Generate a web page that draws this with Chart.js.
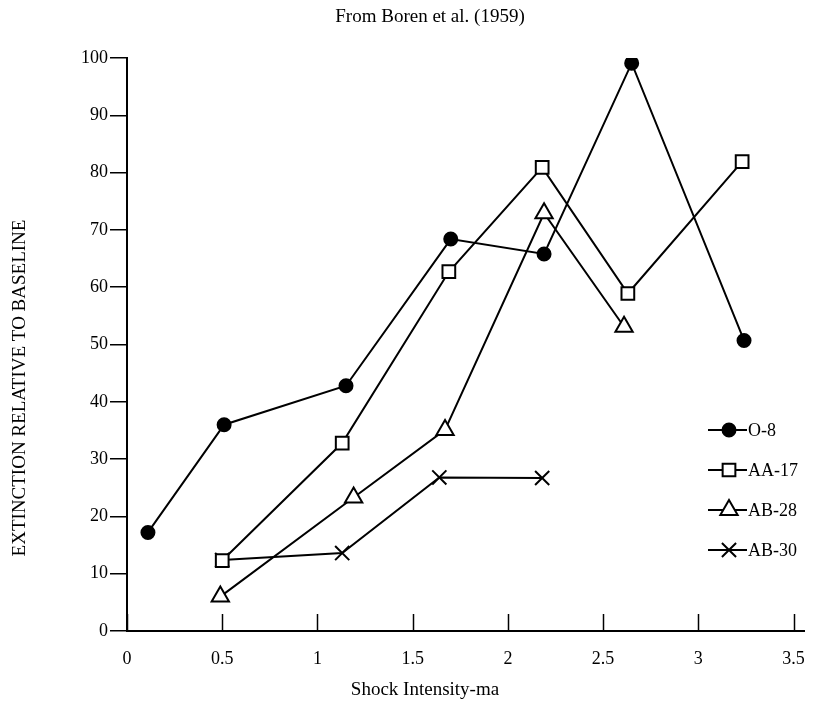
<!DOCTYPE html>
<html>
<head>
<meta charset="utf-8">
<script src="https://cdn.jsdelivr.net/npm/chart.js"></script>
<style>
body { margin: 0; background: #fff; }
#wrap { width: 822px; height: 706px; }
</style>
</head>
<body>
<div id="wrap"><canvas id="chart" width="822" height="706"></canvas></div>
<script>
// values (Boren et al. 1959)
var seriesNames = ['O-8', 'AA-17', 'AB-28', 'AB-30'];

var xO8 = [0.11, 0.51, 1.15, 1.70, 2.19, 2.65, 3.24];
var yO8 = [17.2, 36.0, 42.8, 68.4, 65.8, 99.1, 50.7];

var xAA17 = [0.50, 1.13, 1.69, 2.18, 2.63, 3.23];
var yAA17 = [12.3, 32.8, 62.7, 80.9, 58.9, 81.9];

var xAB28 = [0.49, 1.19, 1.67, 2.19, 2.61];
var yAB28 = [6.0, 23.3, 35.1, 72.9, 53.1];

var xAB30 = [0.50, 1.13, 1.64, 2.18];
var yAB30 = [12.4, 13.6, 26.8, 26.7];

var xTicks = [0, 0.5, 1, 1.5, 2, 2.5, 3, 3.5];
var yTicks = [0, 10, 20, 30, 40, 50, 60, 70, 80, 90, 100];

var titleText = 'From Boren et al. (1959)';
var xTitle = 'Shock Intensity-ma';
var yTitle = 'EXTINCTION RELATIVE TO BASELINE';

function pairs(xs, ys) {
    return xs.map(function(x, i) { return {x: x, y: ys[i]}; });
}

var serif = "'Liberation Serif', 'DejaVu Serif', serif";

var marks = [
    {style: 'circle', r: 6.5, fill: '#000'},
    {style: 'rect', r: 9, fill: '#fff'},
    {style: 'triangle', r: 10, fill: '#fff'},
    {style: 'crossRot', r: 10, fill: '#fff'}
];

var allX = [xO8, xAA17, xAB28, xAB30];
var allY = [yO8, yAA17, yAB28, yAB30];

var datasets = seriesNames.map(function(name, i) {
    return {
        label: name,
        data: pairs(allX[i], allY[i]),
        borderColor: '#000',
        borderWidth: 2,
        backgroundColor: marks[i].fill,
        pointStyle: marks[i].style,
        pointRadius: marks[i].r,
        pointBorderWidth: 2,
        pointBorderColor: '#000',
        pointBackgroundColor: marks[i].fill,
        tension: 0,
        fill: false
    };
});

// x axis tick marks point up into the plot
var innerTicks = {
    id: 'innerTicks',
    beforeDatasetsDraw: function(chart) {
        var ctx = chart.ctx, xs = chart.scales.x, bottom = chart.chartArea.bottom;
        ctx.save();
        ctx.strokeStyle = '#000';
        ctx.lineWidth = 1.5;
        xTicks.forEach(function(v) {
            var px = Math.round(xs.getPixelForValue(v)) + 0.5;
            ctx.beginPath();
            ctx.moveTo(px, bottom);
            ctx.lineTo(px, bottom - 17);
            ctx.stroke();
        });
        ctx.restore();
    }
};

// chart title and axis titles, placed where the original has them
var titles = {
    id: 'titles',
    afterDraw: function(chart) {
        var ctx = chart.ctx;
        ctx.save();
        ctx.fillStyle = '#000';
        ctx.textAlign = 'center';
        ctx.textBaseline = 'middle';
        ctx.font = '19px ' + serif;
        ctx.fillText(titleText, 430, 17);
        ctx.fillText(xTitle, 425, 690);
        ctx.translate(20, 388);
        ctx.rotate(-Math.PI / 2);
        ctx.font = '19px ' + serif;
        ctx.fillText(yTitle, 0, 0);
        ctx.restore();
    }
};

// legend drawn inside the plot, lower right
var insideLegend = {
    id: 'insideLegend',
    afterDraw: function(chart) {
        var ctx = chart.ctx;
        var x0 = 729, y0 = 430, gap = 40;
        ctx.save();
        chart.data.datasets.forEach(function(ds, i) {
            var y = y0 + i * gap;
            ctx.strokeStyle = '#000';
            ctx.lineWidth = 2;
            ctx.beginPath();
            ctx.moveTo(x0 - 21, y);
            ctx.lineTo(x0 + 18, y);
            ctx.stroke();
            ctx.fillStyle = ds.pointBackgroundColor;
            Chart.helpers.drawPoint(ctx, {
                pointStyle: ds.pointStyle,
                radius: ds.pointRadius,
                borderWidth: ds.pointBorderWidth,
                rotation: 0
            }, x0, y);
            ctx.fillStyle = '#000';
            ctx.font = '18px ' + serif;
            ctx.textAlign = 'left';
            ctx.textBaseline = 'middle';
            ctx.fillText(ds.label, x0 + 19, y + 1);
        });
        ctx.restore();
    }
};

var config = {
    type: 'line',
    data: { datasets: datasets },
    options: {
        responsive: false,
        animation: false,
        layout: { padding: { left: 0, right: 12, top: 58, bottom: 0 } },
        plugins: {
            legend: { display: false },
            tooltip: { enabled: false },
            title: { display: false }
        },
        scales: {
            x: {
                type: 'linear',
                min: 0,
                max: 3.56,
                afterBuildTicks: function(scale) {
                    scale.ticks = xTicks.map(function(v) { return {value: v}; });
                },
                afterFit: function(scale) { scale.height = 75; },
                grid: { display: false, drawTicks: false },
                border: { display: true, color: '#000', width: 2 },
                ticks: {
                    color: '#000',
                    padding: 17,
                    maxRotation: 0,
                    font: { family: serif, size: 18 },
                    callback: function(v) { return String(v); }
                }
            },
            y: {
                type: 'linear',
                min: 0,
                max: 100,
                afterBuildTicks: function(scale) {
                    scale.ticks = yTicks.map(function(v) { return {value: v}; });
                },
                afterFit: function(scale) { scale.width = 127; },
                grid: {
                    display: true,
                    drawOnChartArea: false,
                    drawTicks: true,
                    tickLength: 17,
                    color: '#000',
                    lineWidth: 1.5
                },
                border: { display: true, color: '#000', width: 2 },
                ticks: {
                    color: '#000',
                    padding: 2,
                    font: { family: serif, size: 18 }
                }
            }
        }
    },
    plugins: [innerTicks, titles, insideLegend]
};

window.onload = function() {
    var ctx = document.getElementById('chart').getContext('2d');
    window.myChart = new Chart(ctx, config);
};
</script>
</body>
</html>
